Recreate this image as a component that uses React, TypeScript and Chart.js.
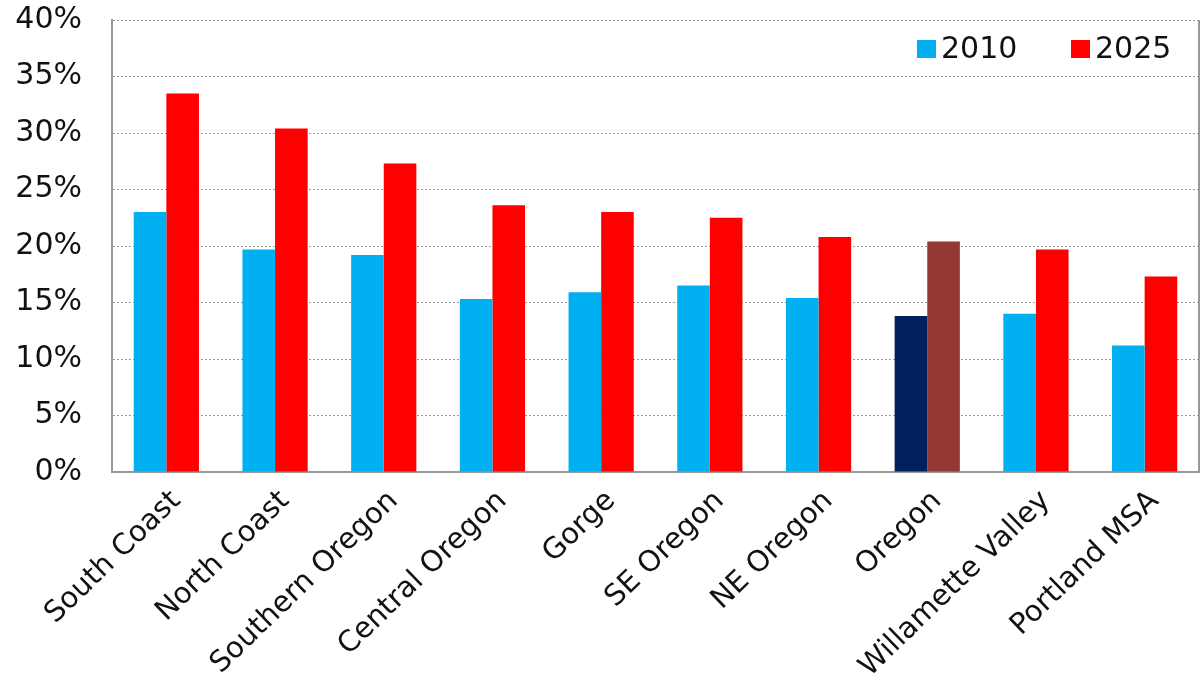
import React, { useEffect, useRef } from "react";
import { Chart, registerables } from "chart.js";

Chart.register(...registerables);

const categories = [
  "South Coast",
  "North Coast",
  "Southern Oregon",
  "Central Oregon",
  "Gorge",
  "SE Oregon",
  "NE Oregon",
  "Oregon",
  "Willamette Valley",
  "Portland MSA",
];
const values2010 = [23.0, 19.7, 19.2, 15.3, 15.9, 16.5, 15.4, 13.8, 14.0, 11.2];
const values2025 = [33.5, 30.4, 27.3, 23.6, 23.0, 22.5, 20.8, 20.4, 19.7, 17.3];
const seriesNames = ["2010", "2025"];
const yTicks = [0, 5, 10, 15, 20, 25, 30, 35, 40];

const COLOR_2010 = "#00B0F0";
const COLOR_2025 = "#FF0000";
const COLOR_OR_2010 = "#002060";
const COLOR_OR_2025 = "#953735";
const FONT = "'DejaVu Sans', sans-serif";

const legendPlugin = {
  id: "customLegend",
  afterDraw(chart: any) {
    const ctx = chart.ctx;
    const items = [
      { label: seriesNames[0], color: COLOR_2010, x: 917 },
      { label: seriesNames[1], color: COLOR_2025, x: 1071 },
    ];
    ctx.save();
    ctx.font = `30px ${FONT}`;
    ctx.textBaseline = "middle";
    ctx.textAlign = "left";
    items.forEach((it) => {
      ctx.fillStyle = it.color;
      ctx.fillRect(it.x, 40, 19, 18);
      ctx.fillStyle = "#111";
      ctx.fillText(it.label, it.x + 24, 50);
    });
    ctx.restore();
  },
};

export default function App() {
  const ref = useRef<HTMLCanvasElement>(null);
  useEffect(() => {
    document.body.style.margin = "0";
    const bg2010 = categories.map((c) => (c === "Oregon" ? COLOR_OR_2010 : COLOR_2010));
    const bg2025 = categories.map((c) => (c === "Oregon" ? COLOR_OR_2025 : COLOR_2025));
    const chart = new Chart(ref.current!, {
      type: "bar",
      data: {
        labels: categories,
        datasets: [
          {
            label: seriesNames[0],
            data: values2010,
            backgroundColor: bg2010,
            categoryPercentage: 0.6,
            barPercentage: 1.0,
          },
          {
            label: seriesNames[1],
            data: values2025,
            backgroundColor: bg2025,
            categoryPercentage: 0.6,
            barPercentage: 1.0,
          },
        ],
      },
      options: {
        responsive: false,
        animation: false,
        layout: { padding: { top: 20, right: 5, left: 0, bottom: 0 } },
        plugins: {
          legend: { display: false },
          tooltip: { enabled: false },
        },
        scales: {
          x: {
            grid: { display: false, drawTicks: false },
            border: { display: true, color: "#999", width: 2 },
            ticks: {
              minRotation: 44,
              maxRotation: 44,
              autoSkip: false,
              padding: 12,
              labelOffset: 10,
              color: "#111",
              font: { family: FONT, size: 29 },
            },
            afterFit: (scale: any) => {
              scale.height = 206;
              scale.paddingLeft = 0;
              scale.paddingRight = 0;
            },
          },
          y: {
            min: 0,
            max: 40,
            afterBuildTicks: (scale: any) => {
              scale.ticks = yTicks.map((v) => ({ value: v }));
            },
            grid: {
              color: "#999",
              lineWidth: 1,
              drawTicks: false,
            },
            border: { display: true, color: "#999", width: 2, dash: [2, 2] },
            ticks: {
              padding: 30,
              color: "#111",
              font: { family: FONT, size: 30 },
              callback: (v: any) => `${v}%`,
            },
            afterFit: (scale: any) => {
              scale.width = 112;
              scale.paddingTop = 0;
              scale.paddingBottom = 0;
            },
          },
        },
      },
      plugins: [
        legendPlugin,
        {
          id: "rightBorder",
          afterDatasetsDraw(chart: any) {
            const { ctx, chartArea } = chart;
            ctx.save();
            ctx.strokeStyle = "#999";
            ctx.lineWidth = 2;
            ctx.beginPath();
            ctx.moveTo(chartArea.right, chartArea.top);
            ctx.lineTo(chartArea.right, chartArea.bottom);
            ctx.stroke();
            ctx.restore();
          },
        },
      ],
    } as any);
    return () => chart.destroy();
  }, []);
  return (
    <div style={{ position: "absolute", left: 0, top: 0, width: 1204, height: 678 }}>
      <canvas ref={ref} width={1204} height={678} />
    </div>
  );
}
